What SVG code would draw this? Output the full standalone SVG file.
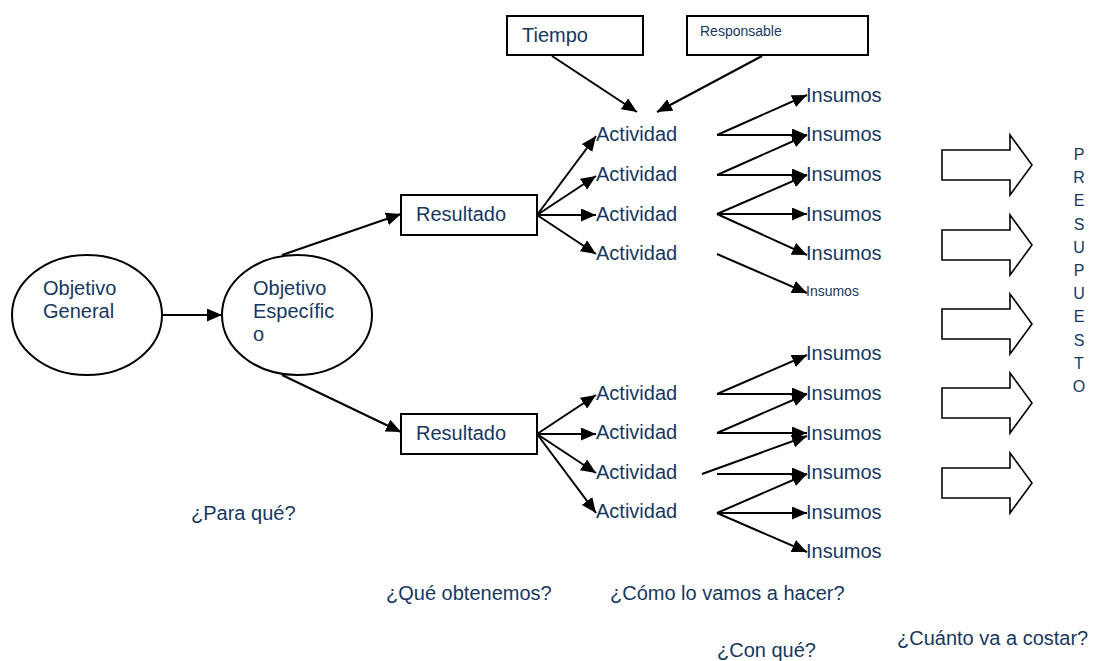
<svg xmlns="http://www.w3.org/2000/svg" width="1095" height="661" viewBox="0 0 1095 661">
<defs>
<marker id="ah" markerUnits="userSpaceOnUse" markerWidth="16" markerHeight="13" refX="15" refY="6.5" orient="auto">
<path d="M0,0 L15,6.5 L0,13 z" fill="#000"/>
</marker>
<style>
.t{font-family:"Liberation Sans",Arial,sans-serif;font-size:20px;fill:#17375e}
.s{font-size:14px}
.box{fill:#fff;stroke:#000;stroke-width:2}
.bl{fill:#fff;stroke:#000;stroke-width:1.6}
.c line{stroke:#000;stroke-width:2;marker-end:url(#ah)}
</style>
</defs>
<rect width="1095" height="661" fill="#fff"/>

<g id="objetivo-general"><ellipse class="box" cx="87" cy="315" rx="75" ry="60"/><text class="t" x="43" y="295">Objetivo</text><text class="t" x="43" y="318">General</text></g>
<g id="objetivo-especifico"><ellipse class="box" cx="297" cy="315" rx="75" ry="60"/><text class="t" x="253" y="295">Objetivo</text><text class="t" x="253" y="318">Específic</text><text class="t" x="253" y="341">o</text></g>
<g id="resultado-1"><rect class="box" x="401" y="195" width="136" height="40"/><text class="t" x="416" y="221">Resultado</text></g>
<g id="resultado-2"><rect class="box" x="401" y="414" width="136" height="40"/><text class="t" x="416" y="440">Resultado</text></g>
<g id="tiempo"><rect class="box" x="507" y="16" width="136" height="39"/><text class="t" x="522" y="42">Tiempo</text></g>
<g id="responsable"><rect class="box" x="687" y="16" width="181" height="39"/><text class="t s" x="700" y="36">Responsable</text></g>

<g id="actividades">
<text class="t" x="596" y="141">Actividad</text>
<text class="t" x="596" y="181">Actividad</text>
<text class="t" x="596" y="221">Actividad</text>
<text class="t" x="596" y="260">Actividad</text>
<text class="t" x="596" y="400">Actividad</text>
<text class="t" x="596" y="439">Actividad</text>
<text class="t" x="596" y="479">Actividad</text>
<text class="t" x="596" y="518">Actividad</text>
</g>
<g id="insumos">
<text class="t" x="806" y="102">Insumos</text>
<text class="t" x="806" y="141">Insumos</text>
<text class="t" x="806" y="181">Insumos</text>
<text class="t" x="806" y="221">Insumos</text>
<text class="t" x="806" y="260">Insumos</text>
<text class="t s" x="806" y="296">Insumos</text>
<text class="t" x="806" y="360">Insumos</text>
<text class="t" x="806" y="400">Insumos</text>
<text class="t" x="806" y="440">Insumos</text>
<text class="t" x="806" y="479">Insumos</text>
<text class="t" x="806" y="519">Insumos</text>
<text class="t" x="806" y="558">Insumos</text>
</g>

<g id="presupuesto-arrows">
<polygon class="bl" points="942,150 1010,150 1010,135 1032,165 1010,195 1010,180 942,180"/>
<polygon class="bl" points="942,230 1010,230 1010,215 1032,245 1010,275 1010,260 942,260"/>
<polygon class="bl" points="942,309 1010,309 1010,294 1032,324 1010,354 1010,339 942,339"/>
<polygon class="bl" points="942,388 1010,388 1010,373 1032,403 1010,433 1010,418 942,418"/>
<polygon class="bl" points="942,468 1010,468 1010,453 1032,483 1010,513 1010,498 942,498"/>
</g>
<g id="presupuesto"><text class="t" style="font-size:16px" text-anchor="middle">
<tspan x="1079" y="160">P</tspan><tspan x="1079" y="183">R</tspan><tspan x="1079" y="206">E</tspan><tspan x="1079" y="230">S</tspan><tspan x="1079" y="253">U</tspan><tspan x="1079" y="276">P</tspan><tspan x="1079" y="299">U</tspan><tspan x="1079" y="322">E</tspan><tspan x="1079" y="346">S</tspan><tspan x="1079" y="369">T</tspan><tspan x="1079" y="392">O</tspan></text></g>

<g id="preguntas">
<text class="t" x="191" y="520">¿Para qué?</text>
<text class="t" x="386" y="600">¿Qué obtenemos?</text>
<text class="t" x="610" y="600">¿Cómo lo vamos a hacer?</text>
<text class="t" x="897" y="645">¿Cuánto va a costar?</text>
<text class="t" x="717" y="657">¿Con qué?</text>
</g>

<g id="connectors" class="c">
<line x1="162" y1="315" x2="222" y2="315"/>
<line x1="282" y1="255" x2="401" y2="214"/>
<line x1="282" y1="375" x2="401" y2="432"/>
<line x1="552" y1="56" x2="637" y2="112"/>
<line x1="762" y1="56" x2="657" y2="112"/>
<line x1="537" y1="215" x2="596" y2="136"/>
<line x1="537" y1="215" x2="596" y2="176"/>
<line x1="537" y1="215" x2="596" y2="215"/>
<line x1="537" y1="215" x2="596" y2="254"/>
<line x1="537" y1="434" x2="596" y2="395"/>
<line x1="537" y1="434" x2="596" y2="434"/>
<line x1="537" y1="434" x2="596" y2="473"/>
<line x1="537" y1="434" x2="596" y2="513"/>
<line x1="717" y1="135" x2="807" y2="95"/>
<line x1="717" y1="135" x2="807" y2="135"/>
<line x1="717" y1="175" x2="807" y2="135"/>
<line x1="717" y1="175" x2="807" y2="175"/>
<line x1="717" y1="214" x2="807" y2="175"/>
<line x1="717" y1="214" x2="807" y2="214"/>
<line x1="717" y1="214" x2="807" y2="255"/>
<line x1="717" y1="254" x2="807" y2="293"/>
<line x1="717" y1="394" x2="807" y2="355"/>
<line x1="717" y1="394" x2="807" y2="394"/>
<line x1="717" y1="433" x2="807" y2="394"/>
<line x1="717" y1="433" x2="807" y2="433"/>
<line x1="702" y1="474" x2="807" y2="436"/>
<line x1="717" y1="474" x2="807" y2="474"/>
<line x1="717" y1="513" x2="807" y2="474"/>
<line x1="717" y1="513" x2="807" y2="513"/>
<line x1="717" y1="513" x2="807" y2="552"/>
</g>
</svg>
